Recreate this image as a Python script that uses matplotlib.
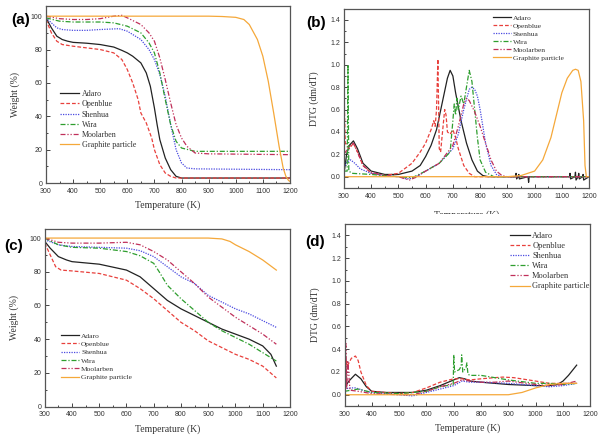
import numpy as np
import matplotlib
matplotlib.use("Agg")
import matplotlib.pyplot as plt
from matplotlib.patches import Rectangle
from matplotlib.ticker import MultipleLocator, FormatStrFormatter

names = ["Adaro", "Openblue", "Shenhua", "Wira", "Moolarben", "Graphite particle"]
colors = ["#222222", "#e8403c", "#4a4ae0", "#2e9e2e", "#c0305a", "#f5a83a"]
styles = ["-", (0, (3, 1.6)), (0, (1, 1)), (0, (4, 1.5, 1, 1.5)),
          (0, (4, 1.5, 1, 1.5, 1, 1.5)), "-"]

# (a) TGA, run 1
a_x = {
    "Adaro": [300, 320, 340, 360, 380, 400, 450, 500, 550, 580, 600, 620, 650, 670, 685, 700, 710, 720, 740, 760, 780, 800, 900, 1200],
    "Openblue": [300, 320, 340, 360, 400, 450, 500, 550, 580, 600, 620, 640, 650, 660, 670, 690, 700, 720, 740, 760, 780, 800, 1200],
    "Shenhua": [300, 320, 340, 360, 400, 450, 500, 570, 600, 650, 680, 700, 720, 740, 760, 780, 800, 820, 850, 1200],
    "Wira": [300, 350, 400, 450, 500, 550, 600, 650, 680, 700, 720, 740, 760, 780, 800, 850, 1200],
    "Moolarben": [300, 350, 400, 450, 500, 550, 580, 600, 650, 680, 700, 720, 740, 760, 780, 800, 820, 850, 900, 1200],
    "Graphite particle": [300, 900, 950, 1000, 1030, 1050, 1080, 1100, 1120, 1140, 1160, 1175, 1185, 1195, 1200],
}
a_y = {
    "Adaro": [99, 93, 88, 86, 85, 84.3, 83.8, 83, 81.5, 79.5, 78, 76, 72, 66, 58, 45, 35, 26, 15, 8, 4, 3, 3, 3],
    "Openblue": [98, 90, 85, 83, 82, 81, 80, 78, 74, 68, 60, 50, 42, 39, 36, 27, 20, 11, 6, 4, 3, 3, 3],
    "Shenhua": [99, 96, 93, 92, 91.5, 91.5, 92, 92.5, 91, 86, 80, 74, 65, 52, 35, 20, 12, 9, 8.5, 8],
    "Wira": [99, 97, 96.5, 96.5, 96.5, 96, 94, 90, 84, 78, 66, 50, 35, 25, 21, 19, 19],
    "Moolarben": [100, 98.5, 98, 98, 98.5, 100, 100.5, 99, 95, 90, 85, 75, 62, 48, 35, 27, 22, 18, 17.5, 17],
    "Graphite particle": [100, 100, 99.8, 99.3, 98, 95, 86, 76, 61, 42, 22, 9, 4, 1.5, 1],
}

# (b) DTG, run 1
b_x = {
    "Adaro": [300, 310, 320, 335, 350, 370, 400, 450, 500, 550, 580, 600, 620, 640, 660, 680, 690, 700, 710, 730, 750, 770, 790, 810, 830,
              930, 932, 934, 940, 942, 944, 976, 978, 980, 1128, 1130, 1132, 1148, 1150, 1152, 1160, 1162, 1164, 1176, 1178, 1180, 1200],
    "Openblue": [300, 302, 305, 320, 335, 350, 370, 400, 450, 500, 550, 580, 600, 620, 630, 635, 640, 645, 650, 655, 660, 670, 675, 680, 690, 700, 710, 720, 740, 760, 780, 1200],
    "Shenhua": [300, 310, 325, 340, 360, 400, 450, 500, 530, 560, 600, 650, 700, 720, 740, 760, 770, 780, 790, 800, 820, 840, 860, 880, 1200],
    "Wira": [300, 312, 315, 318, 330, 400, 500, 550, 600, 650, 690, 700, 705, 710, 715, 720, 730, 740, 750, 760, 770, 780, 790, 800, 820, 850, 1200],
    "Moolarben": [300, 320, 335, 350, 370, 400, 450, 500, 540, 560, 600, 650, 700, 720, 740, 750, 760, 780, 800, 820, 840, 860, 880, 900, 1200],
    "Graphite particle": [300, 900, 950, 1000, 1030, 1060, 1080, 1100, 1120, 1140, 1150, 1160, 1170, 1180, 1185, 1190, 1200],
}
b_y = {
    "Adaro": [0.02, 0.2, 0.28, 0.32, 0.25, 0.12, 0.05, 0.02, 0.02, 0.05, 0.1, 0.18, 0.28, 0.42, 0.65, 0.88, 0.95, 0.9, 0.75, 0.5, 0.3, 0.15, 0.05, 0.01, 0.0,
              0.0, 0.03, -0.02, 0.0, 0.02, -0.02, 0.0, -0.05, 0.0, 0.0, 0.03, -0.02, 0.0, 0.04, -0.03, 0.0, 0.03, -0.02, 0.0, 0.02, -0.03, 0.0],
    "Openblue": [1.5, 0.6, 0.3, 0.25, 0.3, 0.22, 0.1, 0.03, 0.01, 0.03, 0.12, 0.22, 0.3, 0.42, 0.5, 0.45, 0.6, 1.05, 0.25, 0.22, 0.35, 0.6, 0.55, 0.4, 0.38, 0.42, 0.35, 0.25, 0.1, 0.03, 0.0, 0.0],
    "Shenhua": [0.08, 0.13, 0.15, 0.12, 0.07, 0.03, 0.01, 0.0, -0.02, -0.01, 0.05, 0.12, 0.25, 0.38, 0.6, 0.78, 0.8, 0.78, 0.72, 0.6, 0.3, 0.1, 0.02, 0.0, 0.0],
    "Wira": [0.05, 0.05, 1.0, 0.05, 0.03, 0.02, 0.0, -0.01, 0.05, 0.12, 0.22, 0.5, 0.65, 0.55, 0.7, 0.6, 0.72, 0.65, 0.8, 0.95, 0.85, 0.6, 0.35, 0.15, 0.04, 0.0, 0.0],
    "Moolarben": [0.2, 0.27, 0.3, 0.22, 0.1, 0.04, 0.01, 0.0, -0.03, -0.01, 0.05, 0.12, 0.28, 0.45, 0.65, 0.7, 0.68, 0.58, 0.45, 0.3, 0.15, 0.05, 0.01, 0.0, 0.0],
    "Graphite particle": [0.0, 0.0, 0.01, 0.05, 0.15, 0.35, 0.55, 0.75, 0.88, 0.95, 0.96, 0.95, 0.85, 0.5, 0.1, 0.0, 0.0],
}

# (c) TGA, run 2
c_x = {
    "Adaro": [300, 320, 350, 380, 400, 500, 600, 650, 700, 750, 800, 850, 900, 950, 1000, 1050, 1100, 1130, 1150],
    "Openblue": [300, 320, 340, 360, 400, 500, 600, 650, 700, 750, 800, 850, 900, 950, 1000, 1050, 1100, 1150],
    "Shenhua": [300, 350, 400, 500, 600, 650, 700, 750, 800, 850, 900, 950, 1000, 1050, 1100, 1150],
    "Wira": [300, 350, 400, 500, 600, 650, 700, 720, 750, 800, 850, 900, 950, 1000, 1050, 1100, 1150],
    "Moolarben": [300, 350, 400, 500, 600, 650, 700, 750, 800, 850, 900, 950, 1000, 1050, 1100, 1150],
    "Graphite particle": [300, 900, 950, 980, 1000, 1050, 1100, 1150],
}
c_y = {
    "Adaro": [98, 94, 89, 87, 86, 84.5, 81, 77, 70, 63, 58, 54, 50, 46, 43, 40, 36, 31, 24],
    "Openblue": [97, 90, 83, 81, 80.5, 79, 75, 70, 64, 57, 50, 45, 39, 35, 31, 28, 24, 17],
    "Shenhua": [99, 96, 95, 94.5, 94, 92.5, 89, 83, 77, 73, 66, 62, 58, 55, 51, 47],
    "Wira": [100, 96, 94.5, 94, 92, 89.5, 85, 80, 72, 64, 57, 50, 45, 41, 37, 32, 27],
    "Moolarben": [100, 97.5, 97, 97, 97.5, 96, 92, 87, 80, 73, 65, 59, 53, 48, 43, 37],
    "Graphite particle": [100, 100, 99.5, 98, 96, 92, 87, 81],
}

# (d) DTG, run 2
d_x = {
    "Adaro": [300, 303, 306, 310, 320, 340, 360, 380, 400, 450, 500, 550, 600, 650, 700, 720, 740, 760, 800, 900, 1000, 1050, 1080, 1100, 1120, 1150],
    "Openblue": [300, 303, 306, 310, 325, 340, 350, 360, 380, 400, 500, 550, 600, 650, 700, 730, 760, 800, 850, 880, 920, 1000, 1050, 1100, 1150],
    "Shenhua": [300, 320, 340, 380, 400, 500, 550, 600, 650, 700, 730, 760, 800, 900, 1000, 1050, 1100, 1150],
    "Wira": [300, 350, 400, 500, 600, 650, 698, 700, 703, 720, 727, 729, 733, 745, 748, 752, 760, 800, 850, 900, 1000, 1050, 1100, 1150],
    "Moolarben": [300, 305, 308, 312, 320, 350, 400, 500, 550, 600, 650, 700, 730, 760, 800, 850, 900, 1000, 1050, 1100, 1150],
    "Graphite particle": [300, 303, 306, 900, 950, 1000, 1050, 1100, 1150],
}
d_y = {
    "Adaro": [0.1, 0.42, 0.08, 0.1, 0.13, 0.18, 0.14, 0.07, 0.03, 0.02, 0.02, 0.02, 0.04, 0.08, 0.13, 0.15, 0.14, 0.12, 0.11, 0.09, 0.08, 0.08, 0.09, 0.12, 0.17, 0.26],
    "Openblue": [0.4, 0.1, 0.3, 0.25, 0.32, 0.34, 0.3, 0.2, 0.08, 0.03, 0.01, 0.02, 0.06, 0.11, 0.14, 0.14, 0.13, 0.14, 0.15, 0.155, 0.15, 0.12, 0.1, 0.1, 0.1],
    "Shenhua": [0.05, 0.06, 0.06, 0.03, 0.02, 0.0, -0.01, 0.02, 0.05, 0.08, 0.12, 0.11, 0.11, 0.1, 0.08, 0.07, 0.08, 0.1],
    "Wira": [0.03, 0.05, 0.02, 0.01, 0.03, 0.07, 0.09, 0.35, 0.2, 0.22, 0.25, 0.35, 0.2, 0.24, 0.28, 0.18, 0.17, 0.17, 0.15, 0.13, 0.1, 0.1, 0.09, 0.1],
    "Moolarben": [0.1, 0.45, 0.05, 0.3, 0.04, 0.03, 0.01, 0.0, 0.0, 0.03, 0.07, 0.1, 0.13, 0.12, 0.11, 0.11, 0.12, 0.09, 0.08, 0.09, 0.12],
    "Graphite particle": [-0.06, 0.0, 0.0, 0.0, 0.02, 0.06, 0.09, 0.1, 0.1],
}

SERIF = "Liberation Serif"
SANS = "Liberation Sans"

fig = plt.figure(figsize=(6.13, 4.40), dpi=100)

# tag, axes rect, data, ylim, ylabel, legend anchor (upper left), legend size, spacing, xlabel pad
panels = [
    ("(a)", [0.075, 0.584, 0.398, 0.402], a_x, a_y, (0, 106), "Weight (%)", (0.05, 0.535), 5.8, 0.28, 4),
    ("(b)", [0.561, 0.573, 0.400, 0.407], b_x, b_y, (-0.1, 1.5), "DTG (dm/dT)", (0.60, 0.975), 5.4, 0.22, 8),
    ("(c)", [0.073, 0.076, 0.400, 0.404], c_x, c_y, (0, 105.5), "Weight (%)", (0.06, 0.425), 5.4, 0.27, 4),
    ("(d)", [0.562, 0.077, 0.401, 0.414], d_x, d_y, (-0.1, 1.5), "DTG (dm/dT)", (0.665, 0.967), 6.0, 0.26, 4),
]

label_pos = {"(a)": (0.034, 0.955), "(b)": (0.516, 0.948), "(c)": (0.023, 0.441), "(d)": (0.514, 0.45)}

for tag, rect, xs, ys, ylim, ylab, anchor, lsize, lspace, xpad in panels:
    ax = fig.add_axes(rect)
    for n, c, ls in zip(names, colors, styles):
        ax.plot(xs[n], ys[n], color=c, linestyle=ls, lw=0.9, label=n)
    ax.set_xlim(300, 1200)
    ax.set_ylim(*ylim)
    ax.xaxis.set_major_locator(MultipleLocator(100))
    ax.xaxis.set_minor_locator(MultipleLocator(50))
    if ylab.startswith("Weight"):
        ax.yaxis.set_major_locator(MultipleLocator(20))
        ax.yaxis.set_minor_locator(MultipleLocator(10))
    else:
        ax.set_yticks(np.arange(0, 1.41, 0.2))
        ax.yaxis.set_minor_locator(MultipleLocator(0.1))
        ax.yaxis.set_major_formatter(FormatStrFormatter("%.1f"))
    ax.tick_params(which="both", direction="in", labelsize=5, colors="#444444",
                   labelcolor="#333333", width=0.7)
    ax.tick_params(axis="x", pad=3.5)
    ax.tick_params(axis="y", pad=2.5)
    ax.tick_params(which="major", length=3)
    ax.tick_params(which="minor", length=1.6)
    for lbl in ax.get_xticklabels() + ax.get_yticklabels():
        lbl.set_family(SANS)
    for sp in ax.spines.values():
        sp.set_color("#555555")
        sp.set_linewidth(0.9)
    ax.set_xlabel("Temperature (K)", family=SERIF, fontsize=7, labelpad=xpad, color="#333333")
    ax.set_ylabel(ylab, family=SERIF, fontsize=7, labelpad=8, color="#333333")
    leg = ax.legend(loc="upper left", bbox_to_anchor=anchor, frameon=False, handlelength=2.4,
                    handletextpad=0.3, labelspacing=lspace, borderpad=0.2, borderaxespad=0,
                    prop={"family": SERIF, "size": lsize})
    for t in leg.get_texts():
        t.set_color("#333333")
    x, y = label_pos[tag]
    fig.text(x, y, tag, family=SANS, fontweight="bold", fontsize=11, ha="center", va="center")

# lower half of the (b) axis title is hidden in the reference
fig.add_artist(Rectangle((0.54, 0.495), 0.46, 0.018, transform=fig.transFigure,
                         facecolor="white", edgecolor="none", zorder=10))

fig.savefig("out.png", dpi=100)
